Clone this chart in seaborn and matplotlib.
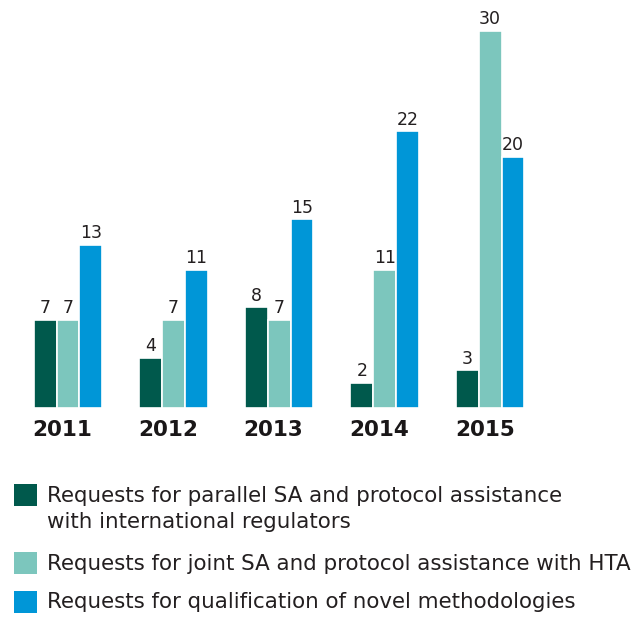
import matplotlib
matplotlib.use("Agg")
import matplotlib.pyplot as plt
from matplotlib.patches import Rectangle
from matplotlib.transforms import ScaledTranslation
import seaborn as sns
import pandas as pd

years = ["2011", "2012", "2013", "2014", "2015"]
series = [
    "Requests for parallel SA and protocol assistance\nwith international regulators",
    "Requests for joint SA and protocol assistance with HTA",
    "Requests for qualification of novel methodologies",
]
parallel = [7, 4, 8, 2, 3]
joint_hta = [7, 7, 7, 11, 30]
qualification = [13, 11, 15, 22, 20]
colors = ["#00594C", "#7CC6BD", "#0096D7"]

rows = []
for s, vals in zip(series, [parallel, joint_hta, qualification]):
    for y, v in zip(years, vals):
        rows.append({"year": y, "series": s, "value": v})
df = pd.DataFrame(rows)

sns.set_style("white")
plt.rcParams["font.family"] = ["DejaVu Sans"]

fig = plt.figure(figsize=(6.4, 6.18), dpi=100)
ax = fig.add_axes([0, (618 - 408) / 618, 1, 408 / 618])
sns.barplot(data=df, x="year", y="value", hue="series", palette=colors,
            saturation=1, width=0.65, edgecolor="white", linewidth=1.2,
            ax=ax, legend=False)
ax.set_xlim(-0.645, 5.42)
ax.set_ylim(0, 408 / 12.57)
for c in ax.containers:
    ax.bar_label(c, padding=2, fontsize=12.5, color="#231F20")
for sp in ax.spines.values():
    sp.set_visible(False)
ax.set_yticks([])
ax.set_xlabel("")
ax.set_ylabel("")
ax.tick_params(axis="x", length=0, pad=9, labelsize=15.5, labelcolor="#1A1718")
shift = ScaledTranslation(-5.5 / 100, 0, fig.dpi_scale_trans)
for t in ax.get_xticklabels():
    t.set_fontweight("bold")
    t.set_transform(t.get_transform() + shift)

# legend
sq_y = [495, 563, 602]
txt_base = [502, 570, 608]
for col, sy, tb, lab in zip(colors, sq_y, txt_base, series):
    fig.patches.append(Rectangle((14 / 640, 1 - (sy + 11) / 618), 23 / 640, 22 / 618,
                                 transform=fig.transFigure, facecolor=col, edgecolor="none"))
    lines = lab.split("\n")
    for i, line in enumerate(lines):
        fig.text(47 / 640, 1 - (tb + 26 * i) / 618, line, fontsize=15.4, color="#231F20",
                 va="baseline", ha="left")

fig.savefig("out.png", dpi=100)
